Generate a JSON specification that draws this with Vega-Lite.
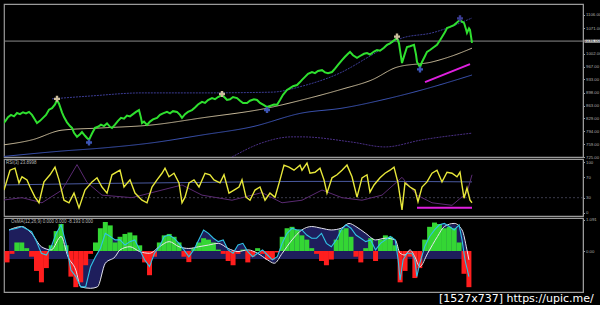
{
"$schema":"https://vega.github.io/schema/vega-lite/v6.json",
"background":"#000000",
"padding":{"left":2,"top":3,"right":0,"bottom":0},
"bounds":"flush",
"config":{"view":{"stroke":"#9a9a9a","strokeWidth":1.2},"axis":{"labelColor":"#b0b0b0","labelFontSize":4.3,"labelFont":"Liberation Sans","domainColor":"#9a9a9a","tickColor":"#9a9a9a","tickSize":1.5,"labelPadding":1,"grid":false,"title":null,"labelOverlap":false,"labelFlush":false,"labelBound":false}},
"datasets":{
"price":[{"x":0,"p":813},{"x":3,"p":820},{"x":6,"p":832},{"x":9,"p":838},{"x":12,"p":834},{"x":15,"p":843},{"x":18,"p":840},{"x":21,"p":845},{"x":24,"p":842},{"x":27,"p":846},{"x":30,"p":838},{"x":33,"p":825},{"x":35,"p":816},{"x":38,"p":822},{"x":41,"p":830},{"x":44,"p":838},{"x":47,"p":852},{"x":50,"p":856},{"x":53,"p":866},{"x":55,"p":878},{"x":57,"p":868},{"x":60,"p":845},{"x":62,"p":832},{"x":65,"p":818},{"x":68,"p":808},{"x":70,"p":803},{"x":72,"p":790},{"x":75,"p":779},{"x":78,"p":786},{"x":80,"p":792},{"x":83,"p":782},{"x":85,"p":776},{"x":87,"p":771},{"x":90,"p":788},{"x":93,"p":803},{"x":96,"p":806},{"x":99,"p":812},{"x":102,"p":808},{"x":105,"p":815},{"x":108,"p":806},{"x":110,"p":803},{"x":113,"p":812},{"x":116,"p":822},{"x":119,"p":830},{"x":122,"p":828},{"x":125,"p":836},{"x":128,"p":834},{"x":131,"p":840},{"x":134,"p":846},{"x":137,"p":851},{"x":139,"p":830},{"x":140,"p":816},{"x":142,"p":820},{"x":145,"p":811},{"x":148,"p":820},{"x":151,"p":826},{"x":155,"p":830},{"x":158,"p":838},{"x":161,"p":842},{"x":165,"p":846},{"x":168,"p":842},{"x":171,"p":848},{"x":175,"p":846},{"x":178,"p":838},{"x":180,"p":830},{"x":183,"p":840},{"x":186,"p":846},{"x":190,"p":851},{"x":193,"p":858},{"x":196,"p":866},{"x":200,"p":873},{"x":203,"p":870},{"x":206,"p":878},{"x":210,"p":883},{"x":213,"p":880},{"x":216,"p":886},{"x":220,"p":891},{"x":223,"p":884},{"x":225,"p":878},{"x":228,"p":880},{"x":231,"p":886},{"x":235,"p":883},{"x":238,"p":876},{"x":241,"p":870},{"x":245,"p":870},{"x":248,"p":876},{"x":252,"p":880},{"x":255,"p":878},{"x":258,"p":870},{"x":262,"p":864},{"x":265,"p":859},{"x":268,"p":862},{"x":272,"p":866},{"x":275,"p":865},{"x":278,"p":878},{"x":281,"p":892},{"x":285,"p":905},{"x":288,"p":910},{"x":291,"p":915},{"x":295,"p":918},{"x":298,"p":926},{"x":300,"p":932},{"x":303,"p":940},{"x":306,"p":948},{"x":310,"p":953},{"x":313,"p":950},{"x":316,"p":956},{"x":320,"p":958},{"x":323,"p":952},{"x":326,"p":950},{"x":330,"p":953},{"x":333,"p":962},{"x":336,"p":972},{"x":340,"p":985},{"x":343,"p":994},{"x":346,"p":1002},{"x":348,"p":1007},{"x":351,"p":998},{"x":355,"p":991},{"x":358,"p":996},{"x":362,"p":1002},{"x":365,"p":1004},{"x":368,"p":1000},{"x":372,"p":1008},{"x":375,"p":1012},{"x":378,"p":1010},{"x":382,"p":1018},{"x":385,"p":1026},{"x":388,"p":1030},{"x":391,"p":1036},{"x":395,"p":1044},{"x":397,"p":1030},{"x":398,"p":1012},{"x":400,"p":977},{"x":402,"p":995},{"x":405,"p":1020},{"x":408,"p":1022},{"x":412,"p":1026},{"x":414,"p":1000},{"x":415,"p":980},{"x":418,"p":966},{"x":420,"p":980},{"x":423,"p":996},{"x":425,"p":1007},{"x":428,"p":1012},{"x":431,"p":1018},{"x":435,"p":1026},{"x":438,"p":1038},{"x":440,"p":1047},{"x":443,"p":1060},{"x":445,"p":1071},{"x":448,"p":1074},{"x":452,"p":1079},{"x":455,"p":1086},{"x":458,"p":1093},{"x":460,"p":1088},{"x":462,"p":1085},{"x":464,"p":1068},{"x":465,"p":1058},{"x":467,"p":1070},{"x":468,"p":1066},{"x":470,"p":1031}],
"ma":[
{"x":0,"v":757,"s":"tan"},{"x":30,"v":771,"s":"tan"},{"x":60,"v":797,"s":"tan"},{"x":100,"v":803,"s":"tan"},{"x":150,"v":811,"s":"tan"},{"x":200,"v":830,"s":"tan"},{"x":265,"v":856,"s":"tan"},{"x":300,"v":878,"s":"tan"},{"x":340,"v":907,"s":"tan"},{"x":370,"v":932,"s":"tan"},{"x":395,"v":966,"s":"tan"},{"x":430,"v":980,"s":"tan"},{"x":450,"v":996,"s":"tan"},{"x":470,"v":1017,"s":"tan"},
{"x":0,"v":726,"s":"blue"},{"x":60,"v":741,"s":"blue"},{"x":100,"v":749,"s":"blue"},{"x":150,"v":763,"s":"blue"},{"x":200,"v":784,"s":"blue"},{"x":250,"v":806,"s":"blue"},{"x":300,"v":843,"s":"blue"},{"x":340,"v":856,"s":"blue"},{"x":380,"v":878,"s":"blue"},{"x":420,"v":905,"s":"blue"},{"x":470,"v":945,"s":"blue"},
{"x":50,"v":881,"s":"upper"},{"x":90,"v":889,"s":"upper"},{"x":140,"v":897,"s":"upper"},{"x":200,"v":897,"s":"upper"},{"x":270,"v":899,"s":"upper"},{"x":300,"v":915,"s":"upper"},{"x":340,"v":953,"s":"upper"},{"x":370,"v":999,"s":"upper"},{"x":400,"v":1044,"s":"upper"},{"x":430,"v":1058,"s":"upper"},{"x":470,"v":1098,"s":"upper"},
{"x":230,"v":725,"s":"lower"},{"x":260,"v":763,"s":"lower"},{"x":290,"v":779,"s":"lower"},{"x":300,"v":779,"s":"lower"},{"x":350,"v":765,"s":"lower"},{"x":383,"v":752,"s":"lower"},{"x":420,"v":771,"s":"lower"},{"x":470,"v":789,"s":"lower"}],
"stars":[{"x":55,"p":881,"c":"top"},{"x":87,"p":764,"c":"low"},{"x":220,"p":894,"c":"top"},{"x":265,"p":851,"c":"low"},{"x":395,"p":1048,"c":"top"},{"x":418,"p":960,"c":"low"},{"x":458,"p":1097,"c":"last"}],
"trend":[{"x":423,"p":926},{"x":468,"p":974}],
"rsi":[{"x":2,"r":45},{"x":8,"r":84},{"x":13,"r":88},{"x":17,"r":59},{"x":20,"r":71},{"x":25,"r":65},{"x":28,"r":51},{"x":33,"r":31},{"x":37,"r":20},{"x":42,"r":61},{"x":48,"r":75},{"x":53,"r":90},{"x":57,"r":65},{"x":62,"r":25},{"x":67,"r":20},{"x":72,"r":39},{"x":77,"r":10},{"x":83,"r":45},{"x":90,"r":61},{"x":95,"r":69},{"x":100,"r":51},{"x":105,"r":39},{"x":110,"r":75},{"x":118,"r":84},{"x":122,"r":51},{"x":128,"r":65},{"x":133,"r":39},{"x":140,"r":25},{"x":145,"r":20},{"x":150,"r":51},{"x":155,"r":65},{"x":160,"r":78},{"x":163,"r":88},{"x":167,"r":71},{"x":172,"r":78},{"x":177,"r":59},{"x":180,"r":20},{"x":183,"r":31},{"x":187,"r":59},{"x":192,"r":65},{"x":197,"r":51},{"x":203,"r":78},{"x":208,"r":75},{"x":212,"r":65},{"x":218,"r":59},{"x":222,"r":75},{"x":227,"r":39},{"x":232,"r":45},{"x":237,"r":51},{"x":240,"r":65},{"x":244,"r":31},{"x":248,"r":25},{"x":253,"r":45},{"x":258,"r":51},{"x":263,"r":25},{"x":268,"r":39},{"x":273,"r":31},{"x":278,"r":65},{"x":282,"r":94},{"x":287,"r":90},{"x":292,"r":84},{"x":298,"r":94},{"x":300,"r":84},{"x":305,"r":98},{"x":308,"r":78},{"x":313,"r":80},{"x":318,"r":88},{"x":322,"r":65},{"x":325,"r":39},{"x":330,"r":69},{"x":335,"r":75},{"x":340,"r":84},{"x":345,"r":94},{"x":350,"r":71},{"x":355,"r":31},{"x":360,"r":69},{"x":365,"r":75},{"x":368,"r":41},{"x":372,"r":55},{"x":378,"r":69},{"x":383,"r":78},{"x":388,"r":84},{"x":392,"r":90},{"x":396,"r":59},{"x":400,"r":6},{"x":403,"r":59},{"x":408,"r":51},{"x":413,"r":45},{"x":416,"r":22},{"x":420,"r":51},{"x":425,"r":61},{"x":430,"r":78},{"x":435,"r":84},{"x":440,"r":61},{"x":445,"r":80},{"x":450,"r":78},{"x":455,"r":71},{"x":458,"r":80},{"x":462,"r":29},{"x":465,"r":49},{"x":468,"r":25},{"x":470,"r":20}],
"rsip":[{"x":0,"r":25},{"x":20,"r":30},{"x":40,"r":20},{"x":60,"r":45},{"x":75,"r":95},{"x":85,"r":60},{"x":100,"r":35},{"x":130,"r":30},{"x":160,"r":45},{"x":180,"r":55},{"x":200,"r":35},{"x":230,"r":25},{"x":260,"r":40},{"x":280,"r":20},{"x":300,"r":25},{"x":320,"r":45},{"x":340,"r":30},{"x":360,"r":25},{"x":380,"r":35},{"x":400,"r":70},{"x":415,"r":35},{"x":430,"r":20},{"x":450,"r":15},{"x":465,"r":40},{"x":470,"r":75}],
"rsib":[{"x":0,"r":55},{"x":100,"r":58},{"x":200,"r":60},{"x":300,"r":62},{"x":380,"r":62},{"x":470,"r":61}],
"rsit":[{"x":415,"r":10},{"x":470,"r":10}],
"hist":[{"x":0,"h":-0.4},{"x":5,"h":-0.1},{"x":10,"h":0.3},{"x":15,"h":0.3},{"x":20,"h":0.1},{"x":25,"h":-0.2},{"x":30,"h":-0.7},{"x":35,"h":-1.1},{"x":40,"h":-0.6},{"x":45,"h":0.2},{"x":50,"h":0.7},{"x":55,"h":0.95},{"x":60,"h":0.2},{"x":65,"h":-0.9},{"x":70,"h":-1.27},{"x":75,"h":-1.1},{"x":80,"h":-0.5},{"x":85,"h":-0.1},{"x":90,"h":0.3},{"x":95,"h":0.8},{"x":100,"h":1.02},{"x":105,"h":0.9},{"x":110,"h":0.3},{"x":115,"h":0.5},{"x":120,"h":0.6},{"x":125,"h":0.65},{"x":130,"h":0.55},{"x":135,"h":0.2},{"x":140,"h":-0.4},{"x":145,"h":-0.85},{"x":150,"h":-0.2},{"x":155,"h":0.3},{"x":160,"h":0.55},{"x":165,"h":0.6},{"x":170,"h":0.5},{"x":175,"h":0.3},{"x":180,"h":-0.2},{"x":185,"h":-0.39},{"x":190,"h":0.1},{"x":195,"h":0.3},{"x":200,"h":0.45},{"x":205,"h":0.4},{"x":210,"h":0.3},{"x":215,"h":0.05},{"x":220,"h":-0.1},{"x":225,"h":-0.35},{"x":230,"h":-0.5},{"x":235,"h":-0.1},{"x":240,"h":0.05},{"x":245,"h":-0.4},{"x":250,"h":-0.2},{"x":255,"h":0.1},{"x":260,"h":-0.1},{"x":265,"h":-0.3},{"x":270,"h":-0.3},{"x":275,"h":-0.05},{"x":280,"h":0.5},{"x":285,"h":0.8},{"x":290,"h":0.85},{"x":295,"h":0.75},{"x":300,"h":0.55},{"x":305,"h":0.4},{"x":310,"h":0.1},{"x":315,"h":-0.1},{"x":320,"h":-0.35},{"x":325,"h":-0.5},{"x":330,"h":-0.3},{"x":335,"h":0.4},{"x":340,"h":0.75},{"x":345,"h":0.8},{"x":350,"h":0.5},{"x":355,"h":-0.2},{"x":360,"h":-0.4},{"x":365,"h":0.1},{"x":370,"h":0.45},{"x":375,"h":-0.35},{"x":380,"h":0.4},{"x":385,"h":0.55},{"x":390,"h":0.5},{"x":395,"h":0.2},{"x":400,"h":-1.1},{"x":405,"h":-0.7},{"x":410,"h":-0.2},{"x":415,"h":-0.95},{"x":420,"h":-0.6},{"x":425,"h":0.4},{"x":430,"h":0.85},{"x":435,"h":1.0},{"x":440,"h":0.95},{"x":445,"h":0.8},{"x":450,"h":0.85},{"x":455,"h":0.8},{"x":460,"h":0.3},{"x":465,"h":-0.8},{"x":470,"h":-1.27}],
"cyan":[{"x":2,"v":0.74},{"x":10,"v":0.8},{"x":15,"v":0.86},{"x":25,"v":0.68},{"x":30,"v":0.33},{"x":35,"v":-0.08},{"x":40,"v":-0.14},{"x":45,"v":0.15},{"x":50,"v":0.62},{"x":55,"v":0.92},{"x":60,"v":0.27},{"x":65,"v":-0.67},{"x":70,"v":-0.9},{"x":75,"v":-1.26},{"x":80,"v":-1.26},{"x":85,"v":-0.55},{"x":90,"v":-0.2},{"x":95,"v":0.09},{"x":100,"v":0.62},{"x":105,"v":0.51},{"x":110,"v":0.39},{"x":115,"v":0.39},{"x":120,"v":0.21},{"x":125,"v":0.33},{"x":130,"v":0.39},{"x":135,"v":0.04},{"x":140,"v":-0.31},{"x":145,"v":-0.55},{"x":150,"v":-0.08},{"x":155,"v":0.15},{"x":160,"v":0.51},{"x":165,"v":0.56},{"x":170,"v":0.45},{"x":175,"v":0.27},{"x":180,"v":0.04},{"x":185,"v":-0.2},{"x":190,"v":0.04},{"x":195,"v":0.39},{"x":200,"v":0.74},{"x":205,"v":0.62},{"x":210,"v":0.45},{"x":215,"v":0.33},{"x":220,"v":0.39},{"x":225,"v":0.04},{"x":230,"v":-0.08},{"x":235,"v":0.21},{"x":240,"v":0.27},{"x":245,"v":-0.02},{"x":250,"v":-0.2},{"x":255,"v":-0.08},{"x":260,"v":0.04},{"x":265,"v":-0.14},{"x":270,"v":-0.31},{"x":275,"v":-0.2},{"x":280,"v":0.27},{"x":285,"v":0.62},{"x":290,"v":0.8},{"x":295,"v":0.74},{"x":300,"v":0.74},{"x":305,"v":0.56},{"x":310,"v":0.45},{"x":315,"v":0.45},{"x":320,"v":0.62},{"x":325,"v":0.27},{"x":330,"v":0.15},{"x":335,"v":0.39},{"x":340,"v":0.74},{"x":345,"v":0.92},{"x":350,"v":0.8},{"x":355,"v":0.56},{"x":360,"v":0.45},{"x":365,"v":0.33},{"x":370,"v":0.39},{"x":375,"v":0.04},{"x":380,"v":0.27},{"x":385,"v":0.39},{"x":390,"v":0.51},{"x":395,"v":0.39},{"x":398,"v":-0.31},{"x":400,"v":-1.02},{"x":403,"v":-0.31},{"x":407,"v":-0.08},{"x":412,"v":-0.08},{"x":415,"v":-0.31},{"x":417,"v":-0.9},{"x":420,"v":-0.43},{"x":425,"v":0.15},{"x":430,"v":0.51},{"x":435,"v":0.74},{"x":440,"v":0.92},{"x":445,"v":0.97},{"x":450,"v":0.86},{"x":455,"v":0.74},{"x":460,"v":0.92},{"x":463,"v":0.39},{"x":466,"v":-0.31},{"x":470,"v":-0.9}],
"white":[{"x":2,"v":0.74},{"x":15,"v":0.86},{"x":25,"v":0.62},{"x":35,"v":0.15},{"x":45,"v":0.04},{"x":55,"v":0.51},{"x":62,"v":-0.2},{"x":70,"v":-0.67},{"x":75,"v":-1.26},{"x":85,"v":-1.31},{"x":92,"v":-1.26},{"x":100,"v":-0.43},{"x":110,"v":-0.2},{"x":115,"v":0.04},{"x":125,"v":0.15},{"x":135,"v":-0.02},{"x":145,"v":-0.08},{"x":155,"v":0.15},{"x":165,"v":0.33},{"x":175,"v":0.15},{"x":185,"v":0.09},{"x":195,"v":0.15},{"x":205,"v":0.21},{"x":215,"v":0.27},{"x":225,"v":0.09},{"x":235,"v":-0.02},{"x":245,"v":0.04},{"x":255,"v":-0.08},{"x":265,"v":-0.31},{"x":272,"v":-0.43},{"x":280,"v":-0.08},{"x":290,"v":0.39},{"x":300,"v":0.74},{"x":310,"v":0.86},{"x":320,"v":0.8},{"x":330,"v":0.74},{"x":340,"v":0.8},{"x":348,"v":0.97},{"x":355,"v":0.86},{"x":365,"v":0.62},{"x":375,"v":0.39},{"x":385,"v":0.45},{"x":395,"v":0.39},{"x":400,"v":-0.08},{"x":405,"v":-0.14},{"x":410,"v":0.04},{"x":415,"v":-0.2},{"x":420,"v":-0.55},{"x":428,"v":-0.08},{"x":438,"v":0.51},{"x":445,"v":0.86},{"x":455,"v":0.97},{"x":463,"v":0.74},{"x":468,"v":0.04},{"x":470,"v":-0.31}],
"cur":[{"p":1036,"t":"1036.00"}],
"lbl1":[{"t":"RSI(3) 23.8998"}],
"lbl2":[{"t":"OsMA(12,26,9) 0.000 0.000 -8.193 0.000"},{"t":"[1527x737] https://upic.me/"}]
},
"spacing":2,
"vconcat":[
{"width":579,"height":153,
 "layer":[
  {"data":{"name":"cur"},"mark":{"type":"rule","color":"#8a8a8a","strokeWidth":1},"encoding":{"y":{"field":"p","type":"quantitative","scale":{"domain":[725,1135.5],"nice":false,"zero":false},"axis":{"orient":"right","values":[725,759,794,829,863,898,933,967,1002,1071,1106],"tickCount":40,"format":".2f","labelOverlap":false}}}},
  {"data":{"name":"ma"},"mark":{"type":"line","strokeWidth":1,"interpolate":"monotone","clip":true},
   "encoding":{"x":{"field":"x","type":"quantitative","scale":{"domain":[2,581],"nice":false,"zero":false},"axis":null},
    "y":{"field":"v","type":"quantitative","scale":{"domain":[725,1135.5],"nice":false,"zero":false}},
    "color":{"field":"s","type":"nominal","scale":{"domain":["tan","blue","upper","lower"],"range":["#cbbd9c","#3d55b5","#3c3c95","#4a2f85"]},"legend":null},
    "strokeDash":{"field":"s","type":"nominal","scale":{"domain":["tan","blue","upper","lower"],"range":[[1,0],[1,0],[2,1],[2,1]]},"legend":null}}},
  {"data":{"name":"trend"},"mark":{"type":"line","color":"#e020e0","strokeWidth":2},
   "encoding":{"x":{"field":"x","type":"quantitative","scale":{"domain":[2,581],"nice":false,"zero":false}},"y":{"field":"p","type":"quantitative","scale":{"domain":[725,1135.5],"nice":false,"zero":false}}}},
  {"data":{"name":"price"},"mark":{"type":"line","color":"#2fe02f","strokeWidth":2,"clip":true},
   "encoding":{"x":{"field":"x","type":"quantitative","scale":{"domain":[2,581],"nice":false,"zero":false}},"y":{"field":"p","type":"quantitative","scale":{"domain":[725,1135.5],"nice":false,"zero":false}}}},
  {"data":{"name":"stars"},"mark":{"type":"point","shape":"cross","filled":true,"size":36,"opacity":1},
   "encoding":{"x":{"field":"x","type":"quantitative","scale":{"domain":[2,581],"nice":false,"zero":false}},"y":{"field":"p","type":"quantitative","scale":{"domain":[725,1135.5],"nice":false,"zero":false}},
    "color":{"field":"c","type":"nominal","scale":{"domain":["top","low","last"],"range":["#ff1a1a","#4a7cff","#ff40ff"]},"legend":null}}},
  {"data":{"name":"cur"},"mark":{"type":"rect","color":"#e8e8e8"},"encoding":{"x":{"datum":582.5,"type":"quantitative","scale":{"domain":[2,581],"nice":false,"zero":false}},"x2":{"datum":598},"y":{"datum":1032,"type":"quantitative","scale":{"domain":[725,1135.5],"nice":false,"zero":false}},"y2":{"datum":1040}}},
  {"data":{"name":"cur"},"mark":{"type":"text","color":"#000000","fontSize":4.3,"font":"Liberation Sans","align":"center","baseline":"middle"},"encoding":{"x":{"datum":590,"type":"quantitative","scale":{"domain":[2,581],"nice":false,"zero":false}},"y":{"field":"p","type":"quantitative","scale":{"domain":[725,1135.5],"nice":false,"zero":false}},"text":{"field":"t"}}}
 ]},
{"width":579,"height":57,
 "layer":[
  {"data":{"values":[{"r":30}]},"mark":{"type":"rule","color":"#3a3a4a","strokeWidth":1,"strokeDash":[2,2]},"encoding":{"y":{"field":"r","type":"quantitative","scale":{"domain":[-6,106],"nice":false,"zero":false},"axis":{"orient":"right","values":[0,30,70,100],"tickCount":40,"format":"d","labelOverlap":false}}}},
  {"data":{"name":"rsib"},"mark":{"type":"line","color":"#4a5aa0","strokeWidth":1,"interpolate":"monotone","clip":true},
   "encoding":{"x":{"field":"x","type":"quantitative","scale":{"domain":[2,581],"nice":false,"zero":false},"axis":null},"y":{"field":"r","type":"quantitative","scale":{"domain":[-6,106],"nice":false,"zero":false}}}},
  {"data":{"name":"rsip"},"mark":{"type":"line","color":"#5a2a72","strokeWidth":1,"clip":true},
   "encoding":{"x":{"field":"x","type":"quantitative","scale":{"domain":[2,581],"nice":false,"zero":false}},"y":{"field":"r","type":"quantitative","scale":{"domain":[-6,106],"nice":false,"zero":false}}}},
  {"data":{"name":"rsit"},"mark":{"type":"line","color":"#e020e0","strokeWidth":2},
   "encoding":{"x":{"field":"x","type":"quantitative","scale":{"domain":[2,581],"nice":false,"zero":false}},"y":{"field":"r","type":"quantitative","scale":{"domain":[-6,106],"nice":false,"zero":false}}}},
  {"data":{"name":"rsi"},"mark":{"type":"line","color":"#e8e83a","strokeWidth":1.4,"clip":true},
   "encoding":{"x":{"field":"x","type":"quantitative","scale":{"domain":[2,581],"nice":false,"zero":false}},"y":{"field":"r","type":"quantitative","scale":{"domain":[-6,106],"nice":false,"zero":false}}}},
  {"data":{"name":"lbl1"},"mark":{"type":"text","color":"#b8b8b8","fontSize":4.5,"font":"Liberation Sans","align":"left","baseline":"top"},"encoding":{"x":{"datum":4,"type":"quantitative","scale":{"domain":[2,581],"nice":false,"zero":false}},"y":{"datum":104,"type":"quantitative","scale":{"domain":[-6,106],"nice":false,"zero":false}},"text":{"field":"t"}}}
 ]},
{"width":579,"height":74,
 "layer":[
  {"data":{"name":"white"},"mark":{"type":"area","color":"#1e1e5c","opacity":1,"clip":true},
   "encoding":{"x":{"field":"x","type":"quantitative","scale":{"domain":[2,581],"nice":false,"zero":false},"axis":null},"y":{"field":"v","type":"quantitative","scale":{"domain":[-1.44,1.16],"nice":false,"zero":false},"axis":{"orient":"right","values":[0,1.091],"tickCount":40,"labelOverlap":false,"labelExpr":"datum.value == 0 ? '0.00' : '1.091'"}},"y2":{"datum":-0.28}}},
  {"data":{"name":"cyan"},"mark":{"type":"area","color":"#1e1e5c","opacity":1,"clip":true},
   "encoding":{"x":{"field":"x","type":"quantitative","scale":{"domain":[2,581],"nice":false,"zero":false}},"y":{"field":"v","type":"quantitative","scale":{"domain":[-1.44,1.16],"nice":false,"zero":false}},"y2":{"datum":-0.28}}},
  {"data":{"name":"hist"},"mark":{"type":"bar","width":5,"clip":true},
   "encoding":{"x":{"field":"x","type":"quantitative","scale":{"domain":[2,581],"nice":false,"zero":false}},"y":{"field":"h","type":"quantitative","scale":{"domain":[-1.44,1.16],"nice":false,"zero":false}},"y2":{"datum":0},
    "color":{"condition":{"test":"datum.h >= 0","value":"#34d634"},"value":"#ff1e1e"}}},
  {"data":{"name":"white"},"mark":{"type":"line","color":"#e6e6f0","strokeWidth":1,"interpolate":"monotone","clip":true},
   "encoding":{"x":{"field":"x","type":"quantitative","scale":{"domain":[2,581],"nice":false,"zero":false}},"y":{"field":"v","type":"quantitative","scale":{"domain":[-1.44,1.16],"nice":false,"zero":false}}}},
  {"data":{"name":"cyan"},"mark":{"type":"line","color":"#30c4e6","strokeWidth":1.1,"clip":true},
   "encoding":{"x":{"field":"x","type":"quantitative","scale":{"domain":[2,581],"nice":false,"zero":false}},"y":{"field":"v","type":"quantitative","scale":{"domain":[-1.44,1.16],"nice":false,"zero":false}}}},
  {"data":{"name":"lbl2"},"transform":[{"filter":"indexof(datum.t, 'OsMA') == 0"}],"mark":{"type":"text","color":"#b8b8b8","fontSize":4.5,"font":"Liberation Sans","align":"left","baseline":"top"},"encoding":{"x":{"datum":4,"type":"quantitative","scale":{"domain":[2,581],"nice":false,"zero":false}},"y":{"datum":1.12,"type":"quantitative","scale":{"domain":[-1.44,1.16],"nice":false,"zero":false}},"text":{"field":"t"}}},
  {"data":{"name":"lbl2"},"transform":[{"filter":"indexof(datum.t, 'upic') > 0"}],"mark":{"type":"text","color":"#ffffff","fontSize":11,"font":"DejaVu Sans","align":"right","baseline":"middle"},"encoding":{"x":{"datum":597,"type":"quantitative","scale":{"domain":[2,581],"nice":false,"zero":false}},"y":{"datum":-1.7,"type":"quantitative","scale":{"domain":[-1.44,1.16],"nice":false,"zero":false}},"text":{"field":"t"}}}
 ]}
]
}
